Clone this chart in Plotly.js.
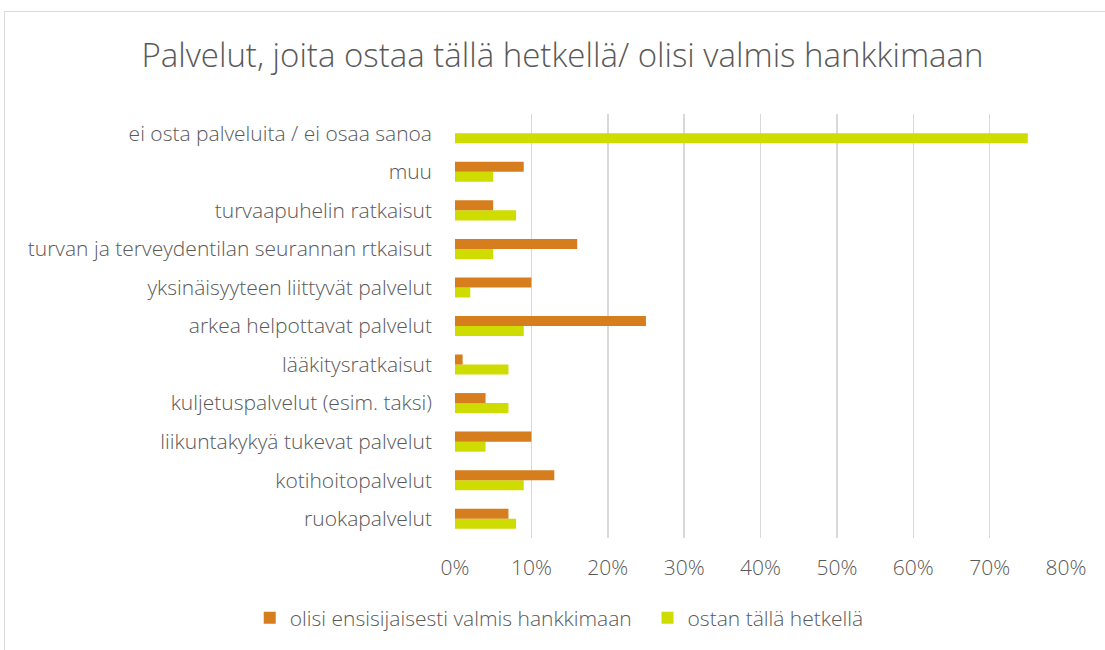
<!DOCTYPE html>
<html><head><meta charset="utf-8">
<script src="https://cdn.plot.ly/plotly-3.0.1.min.js"></script>
<style>
html,body{margin:0;padding:0;background:#fff;overflow:hidden;}
#frame{position:absolute;left:4px;top:11px;width:1200px;height:700px;border:1px solid #d9d9d9;box-sizing:border-box;}
#chart{position:absolute;left:0;top:0;width:1105px;height:650px;}
</style></head>
<body>
<div id="frame"></div>
<div id="chart"></div>
<script>
const categories = [
  "ruokapalvelut",
  "kotihoitopalvelut",
  "liikuntakykyä tukevat palvelut",
  "kuljetuspalvelut (esim. taksi)",
  "lääkitysratkaisut",
  "arkea helpottavat palvelut",
  "yksinäisyyteen liittyvät palvelut",
  "turvan ja terveydentilan seurannan rtkaisut",
  "turvaapuhelin ratkaisut",
  "muu",
  "ei osta palveluita / ei osaa sanoa"
];
const olisiValmis = [0.07, 0.13, 0.10, 0.04, 0.01, 0.25, 0.10, 0.16, 0.05, 0.09, 0];
const ostanNyt    = [0.08, 0.09, 0.04, 0.07, 0.07, 0.09, 0.02, 0.05, 0.08, 0.05, 0.75];
const seriesNames = ["olisi ensisijaisesti valmis hankkimaan", "ostan tällä hetkellä"];
const tickVals = [0,0.1,0.2,0.3,0.4,0.5,0.6,0.7,0.8];
const tickText = ["0%","10%","20%","30%","40%","50%","60%","70%","80%"];

const font = "Open Sans, Segoe UI, sans-serif";
const traces = [
  {type:"bar", orientation:"h", name:seriesNames[1], y:categories, x:ostanNyt,
   marker:{color:"#cfdc00"}, legend:"legend2", hoverinfo:"x+name"},
  {type:"bar", orientation:"h", name:seriesNames[0], y:categories, x:olisiValmis,
   marker:{color:"#d67e1e"}, legend:"legend", hoverinfo:"x+name"}
];
const legendFont = {size:21, color:"#595959", family:font, weight:300};
const layout = {
  width:1105, height:650,
  paper_bgcolor:"rgba(0,0,0,0)", plot_bgcolor:"rgba(0,0,0,0)",
  margin:{l:455, r:39, t:114, b:112},
  barmode:"group", bargap:0.48, bargroupgap:0,
  font:{family:font, color:"#595959", weight:300},
  title:{text:"Palvelut, joita ostaa tällä hetkellä/ olisi valmis hankkimaan",
         font:{family:font, size:33, color:"#595959", weight:300},
         xref:"container", x:0.509, xanchor:"center", yref:"container", y:0.915, yanchor:"middle"},
  xaxis:{range:[0,0.8], tickvals:tickVals, ticktext:tickText,
         showgrid:true, gridcolor:"#d9d9d9", gridwidth:1.5,
         zeroline:false, showline:false, ticks:"",
         tickfont:{size:21, color:"#595959", family:font, weight:300},
         ticklabelstandoff:15, automargin:false, fixedrange:true},
  yaxis:{type:"category", categoryorder:"array", categoryarray:categories,
         showgrid:false, zeroline:false, showline:false, ticks:"",
         tickfont:{size:21, color:"#595959", family:font, weight:300},
         ticklabelstandoff:22, automargin:false, fixedrange:true},
  showlegend:true,
  legend:{orientation:"h", xref:"container", yref:"container",
          x:0.226, xanchor:"left", y:0.049, yanchor:"middle",
          font:legendFont, itemwidth:30},
  legend2:{orientation:"h", xref:"container", yref:"container",
          x:0.586, xanchor:"left", y:0.049, yanchor:"middle",
          font:legendFont, itemwidth:30}
};
Plotly.newPlot("chart", traces, layout, {displayModeBar:false, staticPlot:true});
</script>
</body></html>
